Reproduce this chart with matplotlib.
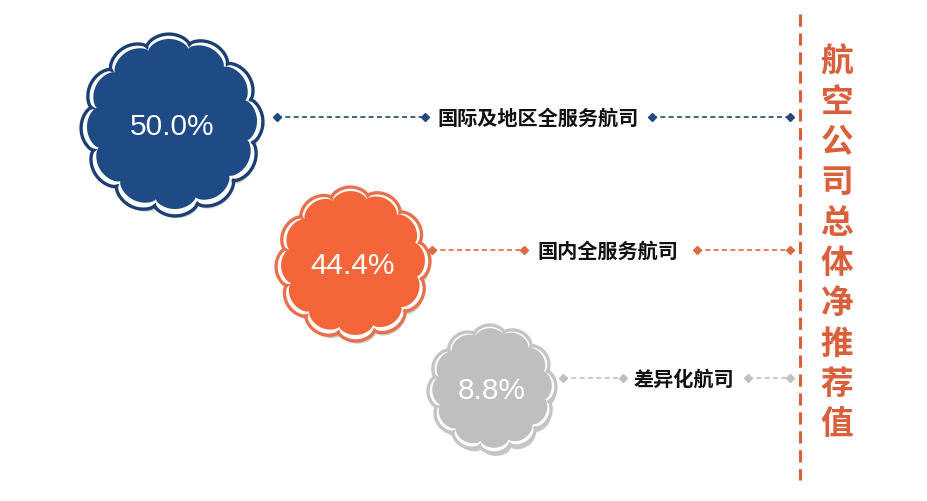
import numpy as np
import matplotlib
matplotlib.use("Agg")
import matplotlib.pyplot as plt
from matplotlib.patches import Polygon

# ---- data ----
categories = ['国际及地区全服务航司', '国内全服务航司', '差异化航司']
values = [50.0, 44.4, 8.8]
title_text = '航空公司总体净推荐值'

# ---- layout / style (pixel space) ----
centers = [(172, 126), (353, 265), (492, 390)]
radii = [91, 77, 64]
fills = ['#1E4A86', '#F4663A', '#BFBFBF']
edges = ['#1B3F72', '#E8704C', '#C4C4C4']
line_cols = ['#1F4A7A', '#E0693F', '#C0C0C0']
label_x = [538, 608, 684]
line_y = [118, 251, 379]
left_seg = [(277, 425), (432, 524), (563, 623)]
right_seg = [(652, 790), (697, 790), (748, 790)]
vline_x = 800
accent = '#D9603B'

plt.rcParams['font.family'] = ['Noto Sans CJK SC', 'DejaVu Sans']

fig = plt.figure(figsize=(9.28, 5.02), dpi=100)
ax = fig.add_axes([0, 0, 1, 1])
ax.set_xlim(0, 928)
ax.set_ylim(502, 0)
ax.axis('off')


def flower(cx, cy, R, n=6, depth=0.1, phase=0.3):
    t = np.linspace(0, 2 * np.pi, 1500)
    r = R * (1 - depth + depth * np.abs(np.cos(n * t + phase)) ** 0.6)
    return np.column_stack([cx + r * np.cos(t), cy + r * np.sin(t)])


for i, (cat, val) in enumerate(zip(categories, values)):
    cx, cy = centers[i]
    R = radii[i]
    # shadow
    ax.add_patch(Polygon(flower(cx + 2, cy + 5, R * 0.97), closed=True,
                         facecolor='#C9C9C9', edgecolor='none', zorder=1))
    # outer ring
    ax.add_patch(Polygon(flower(cx, cy, R), closed=True, facecolor='white',
                         edgecolor=edges[i], linewidth=2.4, zorder=2))
    # inner fill
    ax.add_patch(Polygon(flower(cx, cy - 1, R * 0.935), closed=True,
                         facecolor=fills[i], edgecolor='none', zorder=3))
    ax.text(cx, cy + 1, f'{val:.1f}%', color='white', fontsize=21.5,
            family=['Liberation Sans', 'DejaVu Sans'],
            ha='center', va='center', zorder=4)

    y = line_y[i]
    for (x0, x1) in (left_seg[i], right_seg[i]):
        ax.plot([x0, x1], [y, y], color=line_cols[i], lw=1.2,
                linestyle=(0, (3, 2)), zorder=2)
        ax.plot([x0, x1], [y, y], linestyle='none', marker='D',
                markersize=4, color=line_cols[i], zorder=2)
    ax.text(label_x[i], y, cat, fontsize=14.5, fontweight='bold',
            color='#111111', ha='center', va='center', zorder=4)

# vertical dashed line
ax.plot([vline_x, vline_x], [15, 481], color=accent, lw=2.2,
        linestyle=(0, (4, 2.2)), zorder=2)

# vertical title
y0, step = 62, 40.3
for k, ch in enumerate(title_text):
    ax.text(837, y0 + k * step, ch, fontsize=23.5, fontweight='bold',
            color=accent, ha='center', va='center')

fig.savefig('out.png', dpi=100, facecolor='white')
